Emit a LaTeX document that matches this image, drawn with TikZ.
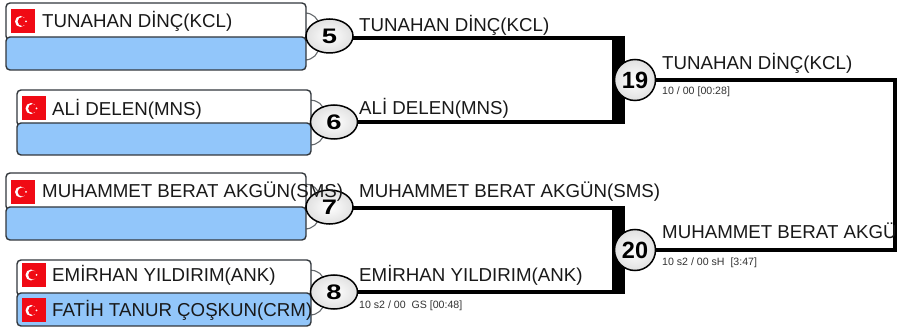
\documentclass[tikz,border=0pt]{standalone}
\usepackage{fontspec}
\setmainfont{Liberation Sans}
\usetikzlibrary{calc,positioning,shapes.geometric}
\definecolor{boxblue}{RGB}{146,198,250}
\definecolor{boxline}{RGB}{50,55,60}
\definecolor{flagred}{RGB}{240,10,20}
\tikzset{
	namebox/.style={draw=boxline,line width=1.4pt,rounded corners=4pt},
	playername/.style={anchor=base west,inner sep=0pt,font=\fontsize{18.7}{20}\selectfont,text=black!90},
	score/.style={anchor=base west,inner sep=0pt,font=\fontsize{10.6}{12}\selectfont,text=black!80},
	wire/.style={draw=black,line width=4.5pt},
	thinwire/.style={draw=black,line width=3.6pt},
	thickbar/.style={draw=black,line width=13pt,line cap=butt},
	loopline/.style={draw=boxline!75,line width=1.1pt},
	smallmatch/.style={ellipse,draw=black,line width=1.5pt,inner sep=0pt,minimum width=47pt,minimum height=34pt,inner color=white,outer color=black!12,font=\bfseries\fontsize{21}{21}\selectfont},
	bigmatch/.style={circle,draw=black,line width=1.5pt,inner sep=0pt,minimum size=41pt,inner color=white,outer color=black!12,font=\bfseries\fontsize{23.5}{24}\selectfont},
	trflag/.pic={
		\fill[flagred] (-12,-12) rectangle (12,12);
		\fill[white] (-2.5,0) circle (5.5);
		\fill[flagred] (-0.8,0) circle (4.5);
		\fill[white] (3,0) circle (1);
	}
}
\begin{document}
\begin{tikzpicture}[x=1pt,y=-1pt]
	\useasboundingbox (0,0) rectangle (898,331);
	\fill[white] (0,0) rectangle (898,331);
	% loops
	\draw[loopline] (305,13) to[out=0,in=90] (319,26);
	\draw[loopline] (305,60) to[out=0,in=-90] (319,46);
	\draw[loopline] (310,100) to[out=0,in=90] (324,112);
	\draw[loopline] (310,145) to[out=0,in=-90] (324,132);
	\draw[loopline] (305,184) to[out=0,in=90] (319,196);
	\draw[loopline] (305,229) to[out=0,in=-90] (319,216);
	\draw[loopline] (310,270) to[out=0,in=90] (324,282);
	\draw[loopline] (310,315) to[out=0,in=-90] (324,302);
	% boxes
	\draw[namebox,fill=white] (6,3) rectangle (306,40);
	\draw[namebox,fill=boxblue] (6,37) rectangle (306,70);
	\draw[namebox,fill=white] (17,90) rectangle (311,126);
	\draw[namebox,fill=boxblue] (17,123) rectangle (311,155);
	\draw[namebox,fill=white] (6,173) rectangle (306,210);
	\draw[namebox,fill=boxblue] (6,207) rectangle (306,240);
	\draw[namebox,fill=white] (17,260) rectangle (311,296);
	\draw[namebox,fill=boxblue] (17,293) rectangle (311,326);
	% flags
	\pic at (23,21.5) {trflag};
	\pic at (33.5,108.5) {trflag};
	\pic at (23,192) {trflag};
	\pic at (33.5,275) {trflag};
	\pic at (33.5,310.5) {trflag};
	% wires
	\coordinate (bar1a) at (618.5,36);
	\coordinate (bar1b) at (618.5,124);
	\coordinate (bar2a) at (618.5,206);
	\coordinate (bar2b) at (618.5,294);
	\coordinate (end1) at (895,80);
	\coordinate (end2) at (895,250);
	\coordinate (c5) at (329.5,38);
	\coordinate (c6) at (334,122);
	\coordinate (c7) at (329.5,208);
	\coordinate (c8) at (334,292);
	\coordinate (c19) at (635,80);
	\coordinate (c20) at (635,250);
	\draw[wire] (c5) to (c5 -| bar1a);
	\draw[wire] (c6) to (c6 -| bar1b);
	\draw[wire] (c7) to (c7 -| bar2a);
	\draw[wire] (c8) to (c8 -| bar2b);
	\draw[thickbar] (bar1a) to (bar1b);
	\draw[thickbar] (bar2a) to (bar2b);
	\draw[thinwire] (c19) to (end1) to (end2) to (c20);
	\node[smallmatch] (m5) at (329.5,36) {\scalebox{1.3}[1]{5}};
	\node[smallmatch] (m6) at (334,122) {\scalebox{1.3}[1]{6}};
	\node[smallmatch] (m7) at (329.5,207) {\scalebox{1.3}[1]{7}};
	\node[smallmatch] (m8) at (334,292) {\scalebox{1.3}[1]{8}};
	\node[bigmatch] (m19) at (c19) {19};
	\node[bigmatch] (m20) at (c20) {20};
	% names in the boxes
	\node[playername] (p1) at (42,28) {TUNAHAN DİNÇ(KCL)};
	\node[playername] (p2) at (52,116) {ALİ DELEN(MNS)};
	\node[playername] (p3) at (42,198) {MUHAMMET BERAT AKGÜN(SMS)};
	\node[playername] (p4) at (52,282) {EMİRHAN YILDIRIM(ANK)};
	\node[playername] (p5) at (52,317) {FATİH TANUR ÇOŞKUN(CRM)};
	% winners
	\node[playername] (w5) at (359,31.5) {TUNAHAN DİNÇ(KCL)};
	\node[playername] (w6) at (359,115) {ALİ DELEN(MNS)};
	\node[playername] (w7) at (359,198) {MUHAMMET BERAT AKGÜN(SMS)};
	\node[playername] (w8) at (359,282) {EMİRHAN YILDIRIM(ANK)};
	\node[playername] (w19) at (662,70) {TUNAHAN DİNÇ(KCL)};
	\node[playername] (w20) at (662,239) {MUHAMMET BERAT AKGÜ};
	% scores
	\node[score] (s8) at (359,309) {10 s2 / 00~ GS [00:48]};
	\node[score] (s19) at (662,95) {10 / 00 [00:28]};
	\node[score] (s20) at (662,266) {10 s2 / 00 sH~ [3:47]};
\end{tikzpicture}
\end{document}
